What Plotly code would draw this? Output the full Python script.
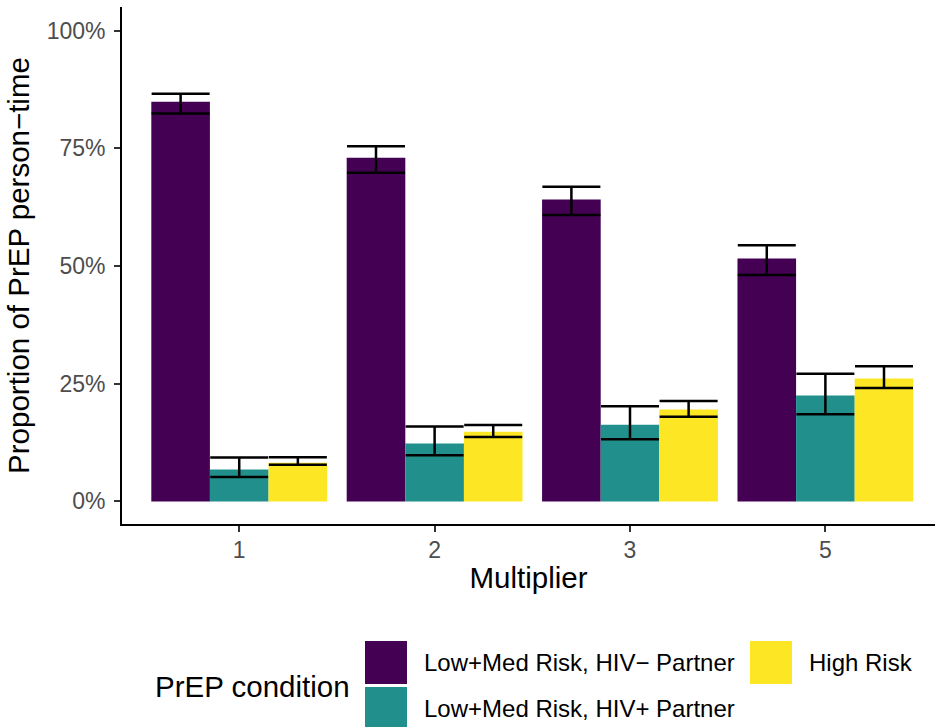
import plotly.graph_objects as go

# Multiplier levels on the x axis
multipliers = ["1", "2", "3", "5"]

# PrEP conditions and their fill colours (viridis)
conditions = [
    "Low+Med Risk, HIV\u2212 Partner",
    "Low+Med Risk, HIV+ Partner",
    "High Risk",
]
colors = ["#440154", "#21908C", "#FDE725"]

# Share of PrEP person-time (%), with lower / upper interval bounds
share_neg = [84.9, 73.0, 64.1, 51.6]
low_neg = [82.4, 69.8, 60.8, 48.1]
high_neg = [86.6, 75.4, 66.8, 54.4]

share_pos = [6.8, 12.3, 16.3, 22.5]
low_pos = [5.2, 9.8, 13.2, 18.5]
high_pos = [9.3, 15.9, 20.2, 27.1]

share_high = [8.2, 14.8, 19.5, 26.1]
low_high = [7.8, 13.7, 18.0, 24.1]
high_high = [9.4, 16.2, 21.3, 28.7]

values = [share_neg, share_pos, share_high]
lows = [low_neg, low_pos, low_high]
highs = [high_neg, high_pos, high_high]

y_ticks = [0, 25, 50, 75, 100]

W, H = 935, 727
ML, MR, MT, MB = 122, 0, 7, 203
FONT = "Liberation Sans, Arial, Helvetica, sans-serif"
TITLE_SIZE = 29.5
TEXT_SIZE = 24


def paper_x(px):
    return (px - ML) / (W - ML - MR)


def paper_y(py):
    return (H - MB - py) / (H - MT - MB)


fig = go.Figure()
for name, col, v, lo, hi in zip(conditions, colors, values, lows, highs):
    fig.add_trace(go.Bar(
        x=multipliers,
        y=v,
        name=name,
        marker=dict(color=col, line=dict(width=0)),
        error_y=dict(
            type="data",
            symmetric=False,
            array=[h - m for h, m in zip(hi, v)],
            arrayminus=[m - l for m, l in zip(v, lo)],
            color="black",
            thickness=2.5,
            width=29,
        ),
        showlegend=False,
    ))

# Legend: large square keys in two columns, title on the left
shapes = []
annotations = []
key_rows = [(641, 684), (687, 730)]
key_layout = [  # (condition index, key left px, row)
    (0, 365, 0),
    (1, 365, 1),
    (2, 750, 0),
]
for idx, kx, row in key_layout:
    y0, y1 = key_rows[row]
    shapes.append(dict(
        type="rect", xref="paper", yref="paper",
        x0=paper_x(kx), x1=paper_x(kx + 42),
        y0=paper_y(y1), y1=paper_y(y0),
        fillcolor=colors[idx], line=dict(width=0), layer="above",
    ))
    annotations.append(dict(
        xref="paper", yref="paper",
        x=paper_x(kx + 57), y=paper_y((y0 + y1) / 2),
        xanchor="left", yanchor="middle",
        text=conditions[idx], showarrow=False,
        font=dict(family=FONT, size=TEXT_SIZE, color="black"),
    ))
annotations.append(dict(
    xref="paper", yref="paper",
    x=paper_x(153), y=paper_y(686),
    xanchor="left", yanchor="middle",
    text="PrEP condition", showarrow=False,
    font=dict(family=FONT, size=TITLE_SIZE, color="black"),
))

fig.update_layout(
    width=W,
    height=H,
    margin=dict(l=ML, r=MR, t=MT, b=MB, pad=0),
    paper_bgcolor="white",
    plot_bgcolor="white",
    barmode="group",
    bargap=0.1,
    bargroupgap=0,
    font=dict(family=FONT, color="black"),
    shapes=shapes,
    annotations=annotations,
    xaxis=dict(
        type="category",
        range=[-0.6, 3.561],
        showline=True, linecolor="black", linewidth=1.8,
        ticks="outside", ticklen=6, tickwidth=1.5, tickcolor="#333333",
        ticklabelstandoff=-2,
        tickfont=dict(family=FONT, size=23, color="#4D4D4D"),
        showgrid=False, zeroline=False,
        title=dict(text="Multiplier", standoff=6,
                   font=dict(family=FONT, size=TITLE_SIZE, color="black")),
    ),
    yaxis=dict(
        range=[-4.8, 105],
        tickvals=y_ticks,
        ticktext=[f"{t}%" for t in y_ticks],
        showline=True, linecolor="black", linewidth=1.8,
        ticks="outside", ticklen=6, tickwidth=1.5, tickcolor="#333333",
        ticklabelstandoff=4,
        tickfont=dict(family=FONT, size=23, color="#4D4D4D"),
        showgrid=False, zeroline=False,
        title=dict(text="Proportion of PrEP person\u2212time", standoff=8,
                   font=dict(family=FONT, size=TITLE_SIZE, color="black")),
    ),
)

fig.write_html("out.html")
